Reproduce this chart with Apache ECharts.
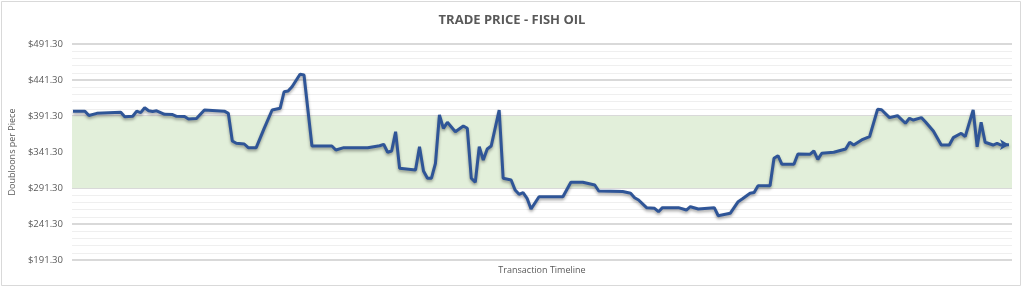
<!DOCTYPE html>
<html>
<head>
<meta charset="utf-8">
<script src="https://cdn.jsdelivr.net/npm/echarts@6/dist/echarts.min.js"></script>
<style>
html,body{margin:0;padding:0;background:#fff;}
#c{width:1024px;height:288px;}
</style>
</head>
<body>
<div id="c"></div>
<script>
const chartTitle = 'TRADE PRICE - FISH OIL';
const yAxisName = 'Doubloons per Piece';
const xAxisName = 'Transaction Timeline';
const yTicks = [191.3, 241.3, 291.3, 341.3, 391.3, 441.3, 491.3];
const bandRange = [291.3, 391.3];
// transaction number along the timeline
const transactions = [0,3,4,6,12,13,15,16,17,18,19,20,21,23,25,26,28,29,31,33,38,39,40,41,43,44,46,48,50,52,53,54,55,57,58,60,65,66,68,74,77,78,79,80,81,82,86,87,88,89,90,91,92,93,94,96,98,99,100,101,102,103,104,105,107,108,110,111,112,113,114,115,117,123,125,128,131,132,138,140,141,142,144,146,147,148,152,154,155,157,161,162,165,167,168,170,171,172,175,176,177,178,181,182,185,186,187,188,191,194,195,196,198,200,202,203,205,207,209,210,211,213,214,216,218,220,221,223,224,226,227,228,229,231,232,233,235];
// trade price at each transaction
const prices = [398,398,392,395,396.4,390.3,391,398,396,402.8,398.7,397.5,398.5,393.6,393.3,390.8,390.5,387,387.8,399.6,398,395,356.6,353.4,352.4,347.3,347.3,374.2,399.6,402,425,426,432,449.2,448.2,349.6,349.6,344.1,347.3,347.3,350,352,341,342.7,369.5,318.6,316.3,348.6,314.9,304.8,305,325.6,392.7,374.2,382.5,369.5,377.4,374.2,304.8,299.2,348.6,330.2,345.5,349.6,399.6,304.8,302.4,288.5,282.5,284.8,277,262.1,279.2,279.2,299.2,299.2,295.5,287.1,286.5,283.9,277.8,274.6,264,263.1,258.4,264,264,260.7,265.3,262.1,264,252.8,256.1,272.3,276,283.9,285,294.5,294.5,332.5,336.2,324.2,324.2,338.5,338.1,342.7,331.1,339.5,340.9,345.5,354.8,351,358,362.6,400.6,400,389,391.7,381.2,388.1,385.7,389,383.4,370.5,351,351,361.2,367.3,362.6,399.6,348.6,382.5,354.8,351,353.4,351,351.5];

const lineColor = '#2f5597';
const seriesData = transactions.map((t, i) => {
  const item = { value: [t, prices[i]] };
  if (i === transactions.length - 1) {
    item.symbol = 'arrow';
    item.symbolSize = [8, 9];
    item.symbolRotate = -90;
    item.itemStyle = { color: lineColor };
  }
  return item;
});

const chart = echarts.init(document.getElementById('c'), null, { renderer: 'canvas' });
chart.setOption({
  animation: false,
  backgroundColor: '#ffffff',
  title: {
    text: chartTitle,
    left: 'center',
    top: 9,
    textStyle: { fontFamily: 'Open Sans', fontWeight: 'bold', fontSize: 13, color: '#595959' }
  },
  graphic: [{
    type: 'rect',
    shape: { x: 1.5, y: 1.5, width: 1019, height: 284 },
    style: { fill: 'none', stroke: '#d9d9d9', lineWidth: 1 },
    silent: true
  }],
  grid: { left: 68, right: 12, top: 44, bottom: 28 },
  xAxis: {
    type: 'value',
    min: -0.25,
    max: transactions[transactions.length - 1] + 0.75,
    name: xAxisName,
    nameLocation: 'middle',
    nameGap: 6,
    nameTextStyle: { fontFamily: 'Open Sans', fontSize: 9, color: '#595959' },
    axisLine: { show: false },
    axisTick: { show: false },
    axisLabel: { show: false },
    splitLine: { show: false }
  },
  yAxis: {
    type: 'value',
    min: yTicks[0],
    max: yTicks[yTicks.length - 1],
    interval: yTicks[1] - yTicks[0],
    name: yAxisName,
    nameLocation: 'middle',
    nameGap: 44,
    nameRotate: 90,
    nameTextStyle: { fontFamily: 'Open Sans', fontSize: 9, color: '#595959' },
    axisLine: { show: false },
    axisTick: { show: false },
    axisLabel: {
      margin: 9,
      fontFamily: 'Open Sans',
      fontSize: 9.5,
      color: '#595959',
      formatter: v => '$' + v.toFixed(2)
    },
    splitLine: { show: true, lineStyle: { color: '#d9d9d9', width: 2 } },
    minorTick: { show: false, splitNumber: 5 },
    minorSplitLine: { show: true, lineStyle: { color: '#efefef', width: 1 } }
  },
  series: [{
    type: 'line',
    data: seriesData,
    symbol: 'none',
    showAllSymbol: true,
    lineStyle: {
      color: lineColor,
      width: 3,
      shadowColor: 'rgba(0,0,0,0.35)',
      shadowBlur: 3,
      shadowOffsetY: 2
    },
    itemStyle: { color: lineColor },
    markArea: {
      silent: true,
      itemStyle: { color: '#e2efda' },
      data: [[{ yAxis: bandRange[0] }, { yAxis: bandRange[1] }]]
    }
  }]
});
</script>
</body>
</html>
